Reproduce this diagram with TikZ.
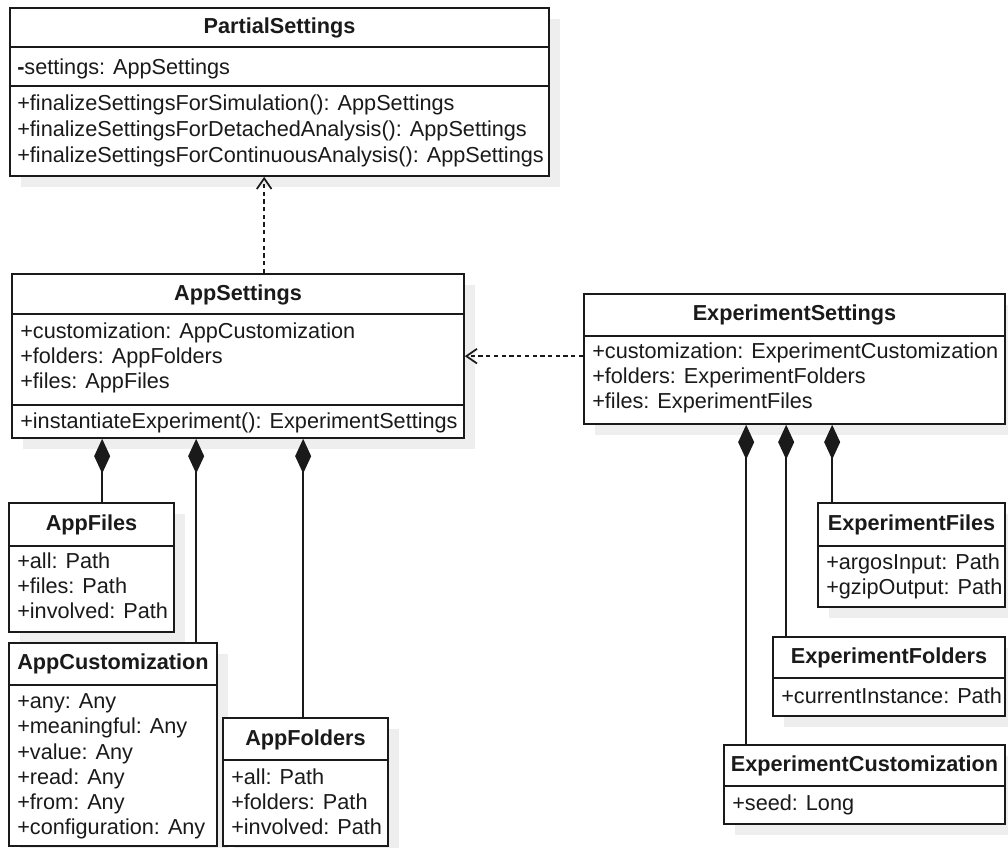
\documentclass[tikz,border=0pt]{standalone}
\usepackage{fontspec}
\setmainfont{Liberation Sans}
\usetikzlibrary{arrows.meta,fit}

\definecolor{inkc}{HTML}{1A1A1A}
\definecolor{shadowc}{HTML}{EEEEEE}

\tikzset{
  classframe/.style={draw=inkc, line width=1.25pt, fill=white, inner sep=0pt},
  boxshadow/.style={fill=shadowc},
  divider/.style={draw=inkc, line width=1.25pt},
  member/.style={anchor=base west, inner sep=0pt, text=inkc,
    font=\fontsize{16.25pt}{19.5pt}\selectfont},
  classtitle/.style={anchor=base, inner sep=0pt, text=inkc,
    font=\fontsize{16.25pt}{19.5pt}\selectfont\bfseries},
  compose/.style={draw=inkc, line width=1.3pt,
    -{Diamond[length=26pt,width=12pt,fill=inkc]}},
  depend/.style={draw=inkc, line width=1.3pt, dash pattern=on 3.2pt off 2.6pt,
    -{Straight Barb[length=8pt,width=11pt]}}
}

% class box with its drop shadow: name, left, top, right, bottom (pixels)
\newcommand\umlclass[5]{%
  \fill[boxshadow] (#2+11,#3+11) rectangle (#4+11,#5+11);
  \node[classframe, fit={(#2,#3)(#4,#5)}] (#1) {};
}

\begin{document}
\begin{tikzpicture}[x=0.75pt,y=-0.75pt]
\useasboundingbox (0,0) rectangle (1008,848);

% ---- PartialSettings ----
\umlclass{ps}{10}{8}{549}{176}
\draw[divider] (10,47) -- (549,47);
\draw[divider] (10,86) -- (549,86);
\node[classtitle] (ps-t) at (279.5,34) {PartialSettings};
\node[member] (ps-a1) at (17,75) {\textbf{-}settings: AppSettings};
\node[member] (ps-m1) at (17,111) {+finalizeSettingsForSimulation(): AppSettings};
\node[member] (ps-m2) at (17,137) {+finalizeSettingsForDetachedAnalysis(): AppSettings};
\node[member] (ps-m3) at (17,163) {+finalizeSettingsForContinuousAnalysis(): AppSettings};

% ---- AppSettings ----
\umlclass{as}{12}{274}{464}{438}
\draw[divider] (12,314) -- (464,314);
\draw[divider] (12,405) -- (464,405);
\node[classtitle] (as-t) at (238,301) {AppSettings};
\node[member] (as-a1) at (20,339) {+customization: AppCustomization};
\node[member] (as-a2) at (20,364) {+folders: AppFolders};
\node[member] (as-a3) at (20,389) {+files: AppFiles};
\node[member] (as-m1) at (20,429) {+instantiateExperiment(): ExperimentSettings};

% ---- ExperimentSettings ----
\umlclass{es}{584}{294}{1005}{424}
\draw[divider] (584,336) -- (1005,336);
\node[classtitle] (es-t) at (794.5,321) {ExperimentSettings};
\node[member] (es-a1) at (592,359) {+customization: ExperimentCustomization};
\node[member] (es-a2) at (592,384) {+folders: ExperimentFolders};
\node[member] (es-a3) at (592,409) {+files: ExperimentFiles};

% ---- AppFiles ----
\umlclass{af}{9}{503}{174}{632}
\draw[divider] (9,546) -- (174,546);
\node[classtitle] (af-t) at (91.5,531) {AppFiles};
\node[member] (af-a1) at (17,569) {+all: Path};
\node[member] (af-a2) at (17,594) {+files: Path};
\node[member] (af-a3) at (17,619) {+involved: Path};

% ---- AppCustomization ----
\umlclass{ac}{9}{643}{217}{846}
\draw[divider] (9,685) -- (217,685);
\node[classtitle] (ac-t) at (113,670) {AppCustomization};
\node[member] (ac-a1) at (17,709) {+any: Any};
\node[member] (ac-a2) at (17,734) {+meaningful: Any};
\node[member] (ac-a3) at (17,759) {+value: Any};
\node[member] (ac-a4) at (17,784) {+read: Any};
\node[member] (ac-a5) at (17,809) {+from: Any};
\node[member] (ac-a6) at (17,834) {+configuration: Any};

% ---- AppFolders ----
\umlclass{afo}{223}{718}{388}{846}
\draw[divider] (223,760) -- (388,760);
\node[classtitle] (afo-t) at (305.5,745) {AppFolders};
\node[member] (afo-a1) at (231,784) {+all: Path};
\node[member] (afo-a2) at (231,809) {+folders: Path};
\node[member] (afo-a3) at (231,834) {+involved: Path};

% ---- ExperimentFiles ----
\umlclass{ef}{818}{503}{1005}{607}
\draw[divider] (818,546) -- (1005,546);
\node[classtitle] (ef-t) at (911.5,531) {ExperimentFiles};
\node[member] (ef-a1) at (826,570) {+argosInput: Path};
\node[member] (ef-a2) at (826,595) {+gzipOutput: Path};

% ---- ExperimentFolders ----
\umlclass{efo}{773}{637}{1005}{716}
\draw[divider] (773,678) -- (1005,678);
\node[classtitle] (efo-t) at (889,664) {ExperimentFolders};
\node[member] (efo-a1) at (781,704) {+currentInstance: Path};

% ---- ExperimentCustomization ----
\umlclass{ec}{724}{745}{1005}{824}
\draw[divider] (724,786) -- (1005,786);
\node[classtitle] (ec-t) at (864.5,772) {ExperimentCustomization};
\node[member] (ec-a1) at (732,810) {+seed: Long};

% ---- dependencies ----
\path (as.north west) ++(253,0) coordinate (dv);
\draw[depend] (dv) -- (dv |- ps.south);
\path (es.north west) ++(0,63) coordinate (dh);
\draw[depend] (dh) -- (dh -| as.east);

% ---- compositions of AppSettings ----
\path (as.south west) ++(91,0) coordinate (c1);
\path (as.south west) ++(185,0) coordinate (c2);
\path (as.south west) ++(292,0) coordinate (c3);
\draw[compose] (c1 |- af.north) -- (c1);
\draw[compose] (c2 |- ac.north) -- (c2);
\draw[compose] (c3 |- afo.north) -- (c3);

% ---- compositions of ExperimentSettings ----
\path (es.south west) ++(163,0) coordinate (e1);
\path (es.south west) ++(203,0) coordinate (e2);
\path (es.south west) ++(249,0) coordinate (e3);
\draw[compose] (e1 |- ec.north) -- (e1);
\draw[compose] (e2 |- efo.north) -- (e2);
\draw[compose] (e3 |- ef.north) -- (e3);
\end{tikzpicture}
\end{document}
